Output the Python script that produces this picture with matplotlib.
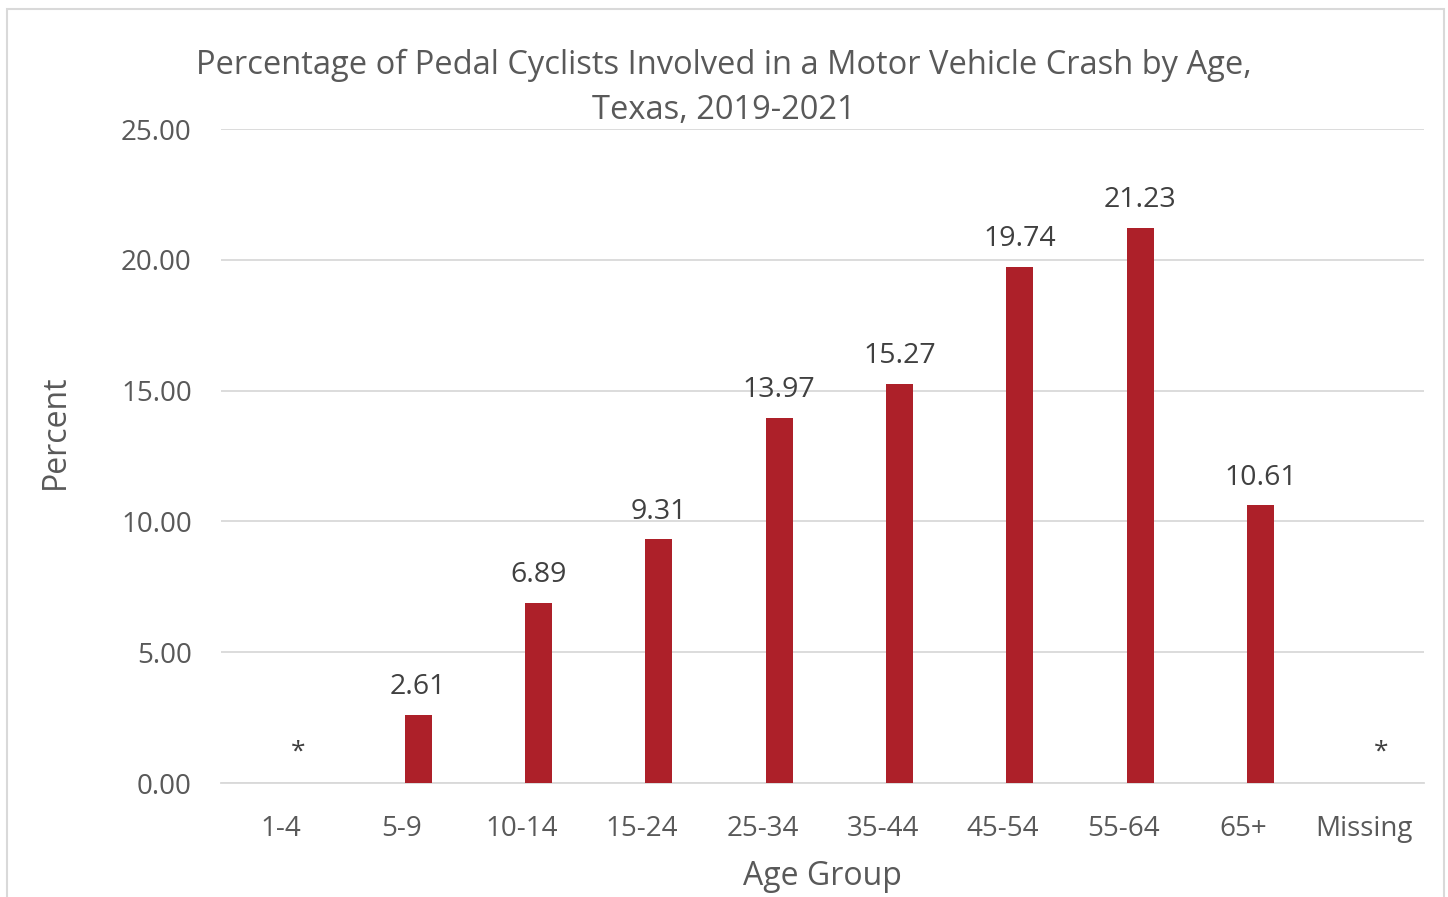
import numpy as np
import matplotlib.pyplot as plt
from matplotlib.patches import Rectangle

age_groups = ["1-4", "5-9", "10-14", "15-24", "25-34", "35-44", "45-54", "55-64", "65+", "Missing"]
percent = [0, 2.61, 6.89, 9.31, 13.97, 15.27, 19.74, 21.23, 10.61, 0]
bar_labels = ["*", "2.61", "6.89", "9.31", "13.97", "15.27", "19.74", "21.23", "10.61", "*"]
yticks = [0, 5, 10, 15, 20, 25]

plt.rcParams['font.family'] = ['Open Sans', 'DejaVu Sans']

fig = plt.figure(figsize=(14.48, 8.97), dpi=100)
ax = fig.add_axes([221/1448, 1 - 783/897, (1424-221)/1448, (783-129)/897])

x = np.arange(len(age_groups))
offset = 0.14
ax.bar(x + offset, percent, width=0.225, color="#AD2029", zorder=3)

for xi, v, lab in zip(x, percent, bar_labels):
    if lab == "*":
        ax.text(xi + offset, v + 1.2, lab, ha="center", va="center", fontsize=19, color="#404040")
    else:
        ax.text(xi + offset, v + 1.05, lab, ha="center", va="center", fontsize=20.5, color="#404040")

ax.set_xlim(-0.5, len(age_groups) - 0.5)
ax.set_ylim(0, 25)
ax.set_yticks(yticks)
ax.set_yticklabels(["%.2f" % t for t in yticks])
ax.set_xticks(x)
ax.set_xticklabels(age_groups)
ax.tick_params(axis="both", length=0, labelsize=20, labelcolor="#595959")
ax.tick_params(axis="y", pad=21)
ax.tick_params(axis="x", pad=23)
ax.grid(axis="y", color="#D9D9D9", linewidth=1.3, zorder=0)
for s in ["top", "right", "left"]:
    ax.spines[s].set_visible(False)
ax.spines["bottom"].set_color("#D9D9D9")
ax.spines["bottom"].set_linewidth(1.3)

ax.set_xlabel("Age Group", fontsize=23, color="#595959", labelpad=12)
ax.set_ylabel("Percent", fontsize=23, color="#595959", va="center")
ax.yaxis.set_label_coords((55 - 221) / 1203, (783 - 432) / 654)

fig.text(0.5, 1 - 88/897, "Percentage of Pedal Cyclists Involved in a Motor Vehicle Crash by Age,\nTexas, 2019-2021",
         ha="center", va="center", fontsize=23.5, color="#595959", linespacing=1.45)

fig.patches.append(Rectangle((7/1448, -0.01), (1444-7)/1448, 1 - 9/897 + 0.01, transform=fig.transFigure,
                             fill=False, edgecolor="#D9D9D9", linewidth=1.5))

fig.savefig("out.png", dpi=100)
